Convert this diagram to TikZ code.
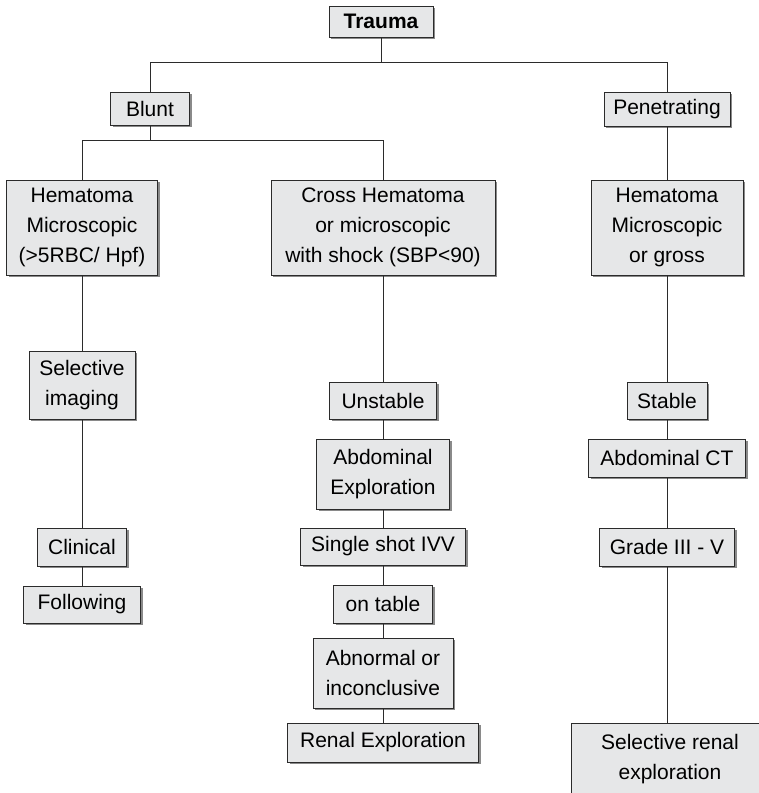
\documentclass[tikz,border=0pt]{standalone}
\usepackage{fontspec}
\setmainfont{Liberation Sans}
\usepackage{tikz}
\usetikzlibrary{shadows}
\usepackage{xcolor}
\definecolor{BoxFill}{HTML}{E6E7E8}
\definecolor{BoxLine}{HTML}{2B2B2B}
\definecolor{BoxShade}{HTML}{8A8A8A}
\tikzset{
    % Box style - grey fill with drop shadow
    stepbox/.style={
        rectangle,
        draw=BoxLine,
        fill=BoxFill,
        line width=0.9pt,
        inner sep=0pt,
        align=center,
        font=\fontsize{21pt}{30pt}\selectfont,
        drop shadow={shadow xshift=2.2pt, shadow yshift=-2.2pt, fill=BoxShade, opacity=1}
    },
    % Connector style - plain straight lines
    link/.style={
        line width=0.9pt,
        draw=BoxLine
    }
}

\begin{document}
\begin{tikzpicture}[x=1pt, y=-1pt]
    \clip (0,0) rectangle (759,793);

    \node[stepbox, minimum width=104, minimum height=31, font=\fontsize{21pt}{30pt}\selectfont\bfseries] (trauma) at (381,21.5) {Trauma};

    \node[stepbox, minimum width=79, minimum height=33] (blunt) at (150,108.5) {Blunt};
    \node[stepbox, minimum width=126, minimum height=34] (pen) at (667,109) {Penetrating};

    \node[stepbox, minimum width=151, minimum height=95] (hemL) at (82,227.5) {Hematoma\\Microscopic\\(>5RBC/ Hpf)};
    \node[stepbox, minimum width=224, minimum height=95] (cross) at (383,227.5) {Cross Hematoma\\or microscopic\\with shock (SBP<90)};
    \node[stepbox, minimum width=152, minimum height=95] (hemR) at (667,227.5) {Hematoma\\Microscopic\\or gross};

    % left column
    \node[stepbox, minimum width=106, minimum height=68] (selimg) at (82,385) {Selective\\imaging};
    \node[stepbox, minimum width=89, minimum height=38] (clin) at (82,547) {Clinical};
    \node[stepbox, minimum width=117, minimum height=37] (follow) at (82,604.5) {Following};

    % middle column
    \node[stepbox, minimum width=107, minimum height=37] (unst) at (383,400.5) {Unstable};
    \node[stepbox, minimum width=133, minimum height=70] (abdex) at (383,474) {Abdominal\\Exploration};
    \node[stepbox, minimum width=165, minimum height=37] (single) at (383,546.5) {Single shot IVV};
    \node[stepbox, minimum width=99, minimum height=38] (ontable) at (383,604) {on table};
    \node[stepbox, minimum width=140, minimum height=70] (abnorm) at (383,673) {Abnormal or\\inconclusive};
    \node[stepbox, minimum width=191, minimum height=39] (renal) at (383,742.5) {Renal Exploration};

    % right column
    \node[stepbox, minimum width=80, minimum height=37] (stable) at (667,400.5) {Stable};
    \node[stepbox, minimum width=157, minimum height=38] (abdct) at (667,458) {Abdominal CT};
    \node[stepbox, minimum width=135, minimum height=38] (grade) at (667,547) {Grade III - V};
    \node[stepbox, minimum width=198, minimum height=72] (selren) at (670,759) {Selective renal\\exploration};

    \draw[link] (trauma.south) -- ++(0,25) -| (blunt.north);
    \draw[link] (trauma.south) -- ++(0,25) -| (pen.north);
    \draw[link] (blunt.south) -- ++(0,15) -| (hemL.north);
    \draw[link] (blunt.south) -- ++(0,15) -| (cross.north);

    \foreach \a/\b in {pen/hemR, hemL/selimg, selimg/clin, clin/follow,
                       cross/unst, unst/abdex, abdex/single, single/ontable,
                       ontable/abnorm, abnorm/renal,
                       hemR/stable, stable/abdct, abdct/grade}
        \draw[link] (\a.south) -- (\b.north);
    \draw[link] (grade.south) -- (grade.south |- selren.north);
\end{tikzpicture}
\end{document}
